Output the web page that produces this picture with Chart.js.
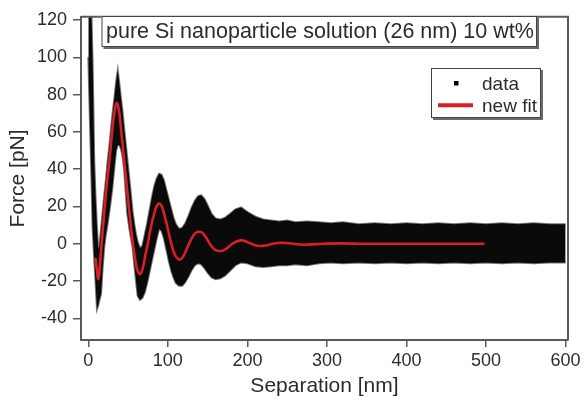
<!DOCTYPE html>
<html>
<head>
<meta charset="utf-8">
<script src="https://cdn.jsdelivr.net/npm/chart.js@4.4.1/dist/chart.umd.min.js"></script>
<style>
  html, body { margin: 0; padding: 0; background: #fff; }
</style>
</head>
<body>
<canvas id="forceChart" width="584" height="400"></canvas>
<script>
// separation (nm) where the noise envelope of the data was read
const sepBand = [0, 2, 3.8, 5.4, 7.5, 9, 10.9, 12.5, 14, 16, 18, 20, 22, 24, 27, 30, 33, 35, 37, 39,
    41, 43, 45, 47, 49, 52, 55.7, 58, 60, 62, 65, 68, 71, 74, 77, 80, 83, 86, 89, 92,
    95, 98, 101, 104, 107, 110, 114, 118, 122, 126, 130, 134, 138, 142, 146, 150, 155, 160, 166, 172,
    178, 185, 192, 200, 210, 220, 230, 240, 250, 260, 275, 290, 305, 320, 340, 360, 380, 400, 420, 440,
    460, 480, 500, 520, 540, 560, 580, 600];
// top and bottom of the data cloud (pN)
const forceTop = [125, 125, 125, 97, 44, 26, 8.5, -3, -1, 8, 17, 26, 34, 43, 55, 68, 79, 87, 93, 86,
    78, 71, 62, 54, 45.5, 33, 17, 10, 5, 1, -2.5, -1, 5, 11, 18, 25, 31, 35, 37.5, 37,
    34, 29, 24, 19, 14, 10.5, 8, 8.5, 11, 15, 19.5, 23, 25.5, 26, 24, 20.5, 16, 13.5, 13, 14,
    16, 18.5, 19.5, 17, 14.5, 13, 12.5, 12, 12.5, 11.5, 12, 11.5, 11, 11.5, 10.5, 11, 10.5, 11, 10.5, 11,
    10.5, 11, 10.5, 11, 10.5, 11, 10.5, 10.5];
const forceBottom = [100, 66, 37, 8.5, -9, -20, -35, -33, -30, -27, -13, -2, 5, 10, 19, 29, 42, 50, 53, 53,
    51, 47, 40, 28, 16, 7, -2, -12, -20, -28, -30, -29, -26, -21, -15, -9, -3, 3, 8, 7,
    3, -3, -9, -14, -18, -21, -22.5, -22.5, -20.5, -17.5, -14, -11.5, -10.5, -11, -13, -15.5, -18, -19, -18.5, -17,
    -14.5, -11.5, -10, -10.5, -12, -12.5, -12, -11.5, -11.5, -11, -11.5, -10.5, -10, -10.5, -10, -10.5, -10, -10.5, -10, -10.5,
    -10, -10.5, -10, -10.5, -10, -10.5, -10, -10];

// new fit curve
const sepFit = [8.8, 10.5, 12.6, 14.5, 16.5, 18.5, 20.1, 23, 26.4, 29.5, 32.7, 35.6, 38.3, 41.1, 44, 47.4, 50.5, 53.7, 57, 60,
    62, 65.4, 69, 72, 74.6, 79, 83, 86, 89, 92, 95, 98, 101, 104, 107, 110, 113, 116, 119, 122,
    126, 130, 134, 138, 142, 146, 150, 155, 160, 166, 171, 176, 181, 187, 193, 199, 205, 211, 217, 223,
    231, 238, 246, 256, 264, 272, 285, 300, 320, 345, 400, 450, 498];
const forceFit = [-7.4, -13, -18.9, -12, -1, 9, 17.3, 31, 44, 58, 70.4, 75.5, 72, 61.5, 49, 35, 21.5, 8.5, -3, -11,
    -14.5, -16.2, -12, -5.5, -0.3, 9.5, 16.5, 20.3, 21.6, 20.5, 16.5, 11.5, 6, 0.5, -3.8, -6.8, -8.2, -8.3, -7, -4.5,
    -0.5, 3, 5.5, 6.4, 6.2, 4.5, 2, -1.5, -3.4, -3.9, -3.3, -1.8, 0, 1.4, 1.8, 1.1, 0, -0.9, -1.2, -0.9,
    -0.1, 0.4, 0.5, 0.1, -0.3, -0.5, -0.2, 0.1, 0.2, 0, 0, 0, 0];

const ticksX = [0, 100, 200, 300, 400, 500, 600];
const ticksY = [-40, -20, 0, 20, 40, 60, 80, 100, 120];

const titleText = 'pure Si nanoparticle solution (26 nm) 10 wt%';
const legendLabels = ['data', 'new fit'];

const FONT = '"Liberation Sans", Arial, sans-serif';
const AXIS_COLOR = '#5a5a5a';
const TEXT_COLOR = '#2b2b2b';
const FIT_RED = '#d81f25';

function toPoints(xs, ys) {
    return xs.map((x, i) => ({ x: x, y: ys[i] }));
}

// box with a small drop shadow, like the Igor annotations
function drawBox(ctx, x, y, w, h) {
    ctx.fillStyle = '#6a6a6a';
    ctx.fillRect(x + 2, y + 2, w, h);
    ctx.fillStyle = '#fff';
    ctx.fillRect(x, y, w, h);
    ctx.strokeStyle = '#444';
    ctx.lineWidth = 1;
    ctx.strokeRect(x + 0.5, y + 0.5, w - 1, h - 1);
}

const annotationPlugin = {
    id: 'annotations',
    afterDatasetsDraw(chart) {
        const ctx = chart.ctx;
        const a = chart.chartArea;
        ctx.save();
        // top and right frame lines
        ctx.strokeStyle = AXIS_COLOR;
        ctx.lineWidth = 2;
        ctx.beginPath();
        ctx.moveTo(a.left, a.top);
        ctx.lineTo(a.right, a.top);
        ctx.lineTo(a.right, a.bottom);
        ctx.stroke();

        // title box
        drawBox(ctx, 101.5, 16, 435.5, 31);
        ctx.fillStyle = TEXT_COLOR;
        ctx.font = '21.5px ' + FONT;
        ctx.textBaseline = 'middle';
        ctx.textAlign = 'left';
        ctx.fillText(titleText, 106, 32);

        // legend box
        drawBox(ctx, 431, 68, 110, 50);
        ctx.fillStyle = '#000';
        ctx.fillRect(454, 81, 4.5, 4.5);
        ctx.strokeStyle = FIT_RED;
        ctx.lineWidth = 4;
        ctx.beginPath();
        ctx.moveTo(438, 105.3);
        ctx.lineTo(473, 105.3);
        ctx.stroke();
        ctx.fillStyle = TEXT_COLOR;
        ctx.font = '19px ' + FONT;
        ctx.textBaseline = 'alphabetic';
        ctx.fillText(legendLabels[0], 482, 90);
        ctx.fillText(legendLabels[1], 482, 112);
        ctx.restore();
    }
};

const ctx = document.getElementById('forceChart').getContext('2d');
new Chart(ctx, {
    type: 'line',
    data: {
        datasets: [
            {
                label: 'new fit',
                data: toPoints(sepFit, forceFit),
                borderColor: FIT_RED,
                borderWidth: 2.6,
                pointRadius: 0,
                tension: 0.4,
                fill: false,
                order: 0
            },
            {
                label: 'data',
                data: toPoints(sepBand, forceTop),
                borderColor: 'rgba(0,0,0,0.55)',
                borderWidth: 2,
                backgroundColor: '#0a0a0a',
                pointRadius: 0,
                tension: 0,
                fill: '+1',
                clip: 0,
                order: 2
            },
            {
                label: 'data bottom',
                data: toPoints(sepBand, forceBottom),
                borderColor: 'rgba(0,0,0,0.55)',
                borderWidth: 2,
                pointRadius: 0,
                tension: 0,
                fill: false,
                clip: 0,
                order: 1
            }
        ]
    },
    options: {
        responsive: false,
        animation: false,
        layout: { padding: { left: 0, top: 13, right: 16, bottom: 0 } },
        plugins: {
            legend: { display: false },
            tooltip: { enabled: false }
        },
        scales: {
            x: {
                type: 'linear',
                min: -9.2,
                max: 603,
                afterFit: s => { s.height = 60; },
                afterBuildTicks: s => { s.ticks = ticksX.map(v => ({ value: v })); },
                grid: { drawOnChartArea: false, drawTicks: true, tickLength: 7, color: AXIS_COLOR, lineWidth: 1.5 },
                border: { display: true, color: AXIS_COLOR, width: 2 },
                ticks: { color: TEXT_COLOR, font: { family: FONT, size: 18 }, padding: 3, maxRotation: 0 },
                title: { display: true, text: 'Separation [nm]', color: TEXT_COLOR, font: { family: FONT, size: 21 }, padding: { top: 0, bottom: 1 } }
            },
            y: {
                type: 'linear',
                min: -51.6,
                max: 121.7,
                afterFit: s => { s.width = 81; },
                afterBuildTicks: s => { s.ticks = ticksY.map(v => ({ value: v })); },
                grid: { drawOnChartArea: false, drawTicks: true, tickLength: 8, color: AXIS_COLOR, lineWidth: 1.5 },
                border: { display: true, color: AXIS_COLOR, width: 2 },
                ticks: { color: TEXT_COLOR, font: { family: FONT, size: 18 }, padding: 6 },
                title: { display: true, text: 'Force [pN]', color: TEXT_COLOR, font: { family: FONT, size: 21 }, padding: { top: 6, bottom: 0 } }
            }
        }
    },
    plugins: [annotationPlugin]
});
</script>
</body>
</html>
